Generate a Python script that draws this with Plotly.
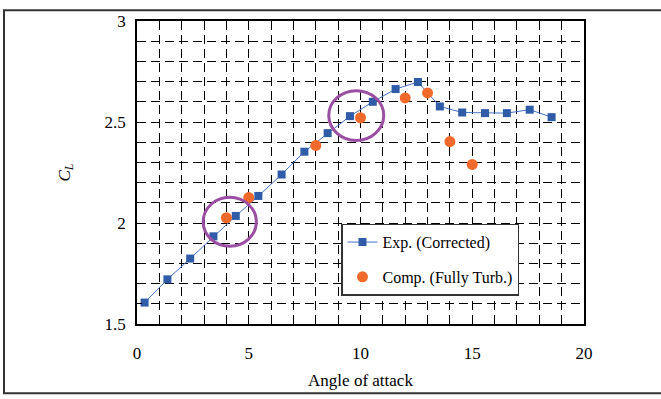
import plotly.graph_objects as go

# Data
exp_aoa = [0.34, 1.36, 2.38, 3.42, 4.42, 5.43, 6.47, 7.49, 8.53, 9.53, 10.55, 11.57, 12.57, 13.55, 14.55, 15.57, 16.55, 17.57, 18.55]
exp_cl = [1.606, 1.721, 1.824, 1.934, 2.035, 2.134, 2.240, 2.353, 2.445, 2.529, 2.600, 2.663, 2.698, 2.577, 2.547, 2.544, 2.544, 2.561, 2.524]
comp_aoa = [4, 5, 8, 10, 12, 13, 14, 15]
comp_cl = [2.026, 2.126, 2.384, 2.521, 2.619, 2.644, 2.403, 2.290]
x_ticks = [0, 5, 10, 15, 20]
y_ticks = [1.5, 2, 2.5, 3]
# highlight ellipses: (center x, center y, radius x, radius y)
highlights = [(4.15, 2.006, 1.19, 0.121), (9.81, 2.532, 1.23, 0.123)]

FONT = "'Liberation Serif', 'Times New Roman', Times, serif"

fig = go.Figure()
fig.add_trace(go.Scatter(
    x=exp_aoa, y=exp_cl, mode="lines+markers", name="Exp. (Corrected)",
    line=dict(color="#4472C4", width=1),
    marker=dict(symbol="square", size=8, color="#2F5BA7"),
    legendgroup="a"))
fig.add_trace(go.Scatter(
    x=comp_aoa, y=comp_cl, mode="markers", name="Comp. (Fully Turb.)",
    marker=dict(symbol="circle", size=11, color="#F26A2B"),
    legendgroup="b"))

for cx, cy, rx, ry in highlights:
    fig.add_shape(type="circle", xref="x", yref="y",
                  x0=cx - rx, x1=cx + rx, y0=cy - ry, y1=cy + ry,
                  line=dict(color="#9B4FA3", width=3))

# outer figure border (right edge beyond view)
fig.add_shape(type="rect", xref="paper", yref="paper",
              x0=(4 - 137) / 447, x1=(680 - 137) / 447,
              y0=-(396 - 325) / 311, y1=1 + (14 - 3) / 311,
              line=dict(color="#333333", width=2), layer="below")

grid = dict(showgrid=True, gridcolor="#000000", gridwidth=1, griddash="9px,5px")

fig.update_layout(
    width=661, height=399,
    margin=dict(l=137, r=77, t=14, b=74),
    paper_bgcolor="white", plot_bgcolor="white",
    font=dict(family=FONT, color="#000000", size=16),
    showlegend=True,
    legend=dict(x=(341 - 137) / 447, y=1 - (222 - 14) / 311, xanchor="left", yanchor="top",
                bordercolor="#333333", borderwidth=1.5, bgcolor="white",
                font=dict(family=FONT, size=16), tracegroupgap=11,
                itemwidth=30),
    xaxis=dict(range=[0, 20], tickvals=x_ticks, ticktext=[str(v) for v in x_ticks],
               showline=True, linecolor="#000000", linewidth=1.5, mirror=True,
               ticks="inside", ticklen=5, tickcolor="#000000",
               minor=dict(dtick=1, ticks="inside", ticklen=5, tickcolor="#000000", **grid),
               **grid, zeroline=False, ticklabelstandoff=13,
               title=dict(text="Angle of attack", font=dict(family=FONT, size=17), standoff=12),
               tickfont=dict(family=FONT, size=17)),
    yaxis=dict(range=[1.5, 3], tickvals=y_ticks, ticktext=["1.5", "2", "2.5", "3"],
               showline=True, linecolor="#000000", linewidth=1.5, mirror=True,
               ticks="inside", ticklen=5, tickcolor="#000000",
               minor=dict(dtick=0.1, ticks="inside", ticklen=5, tickcolor="#000000", **grid),
               **grid, zeroline=False, ticklabelstandoff=6,
               title=dict(text="<i>C<sub>L</sub></i>", font=dict(family=FONT, size=17), standoff=30),
               tickfont=dict(family=FONT, size=17)),
)

fig.write_html("out.html")
